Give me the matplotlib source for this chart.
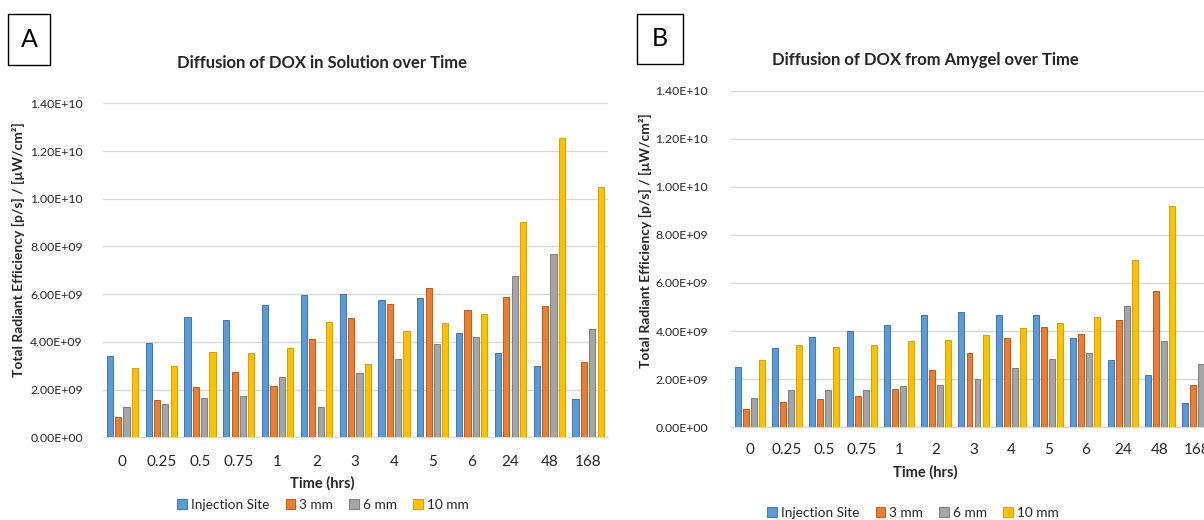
import numpy as np
import matplotlib
matplotlib.use("Agg")
import matplotlib.pyplot as plt
from matplotlib.patches import Rectangle
from matplotlib.ticker import FuncFormatter

plt.rcParams["font.family"] = ["Lato", "DejaVu Sans"]

# Data
times = ["0", "0.25", "0.5", "0.75", "1", "2", "3", "4", "5", "6", "24", "48", "168"]
series_names = ["Injection Site", "3 mm", "6 mm", "10 mm"]

# A: DOX in solution
sol_injection = [3.42e9, 3.94e9, 5.04e9, 4.93e9, 5.56e9, 5.95e9, 6.02e9, 5.74e9, 5.85e9, 4.38e9, 3.53e9, 2.99e9, 1.62e9]
sol_3mm = [0.87e9, 1.58e9, 2.11e9, 2.74e9, 2.15e9, 4.12e9, 5.01e9, 5.57e9, 6.24e9, 5.35e9, 5.87e9, 5.52e9, 3.14e9]
sol_6mm = [1.28e9, 1.38e9, 1.66e9, 1.72e9, 2.51e9, 1.27e9, 2.70e9, 3.30e9, 3.91e9, 4.20e9, 6.76e9, 7.67e9, 4.54e9]
sol_10mm = [2.92e9, 3.00e9, 3.56e9, 3.52e9, 3.73e9, 4.83e9, 3.09e9, 4.47e9, 4.78e9, 5.18e9, 9.02e9, 12.53e9, 10.49e9]

# B: DOX from Amygel (last 10 mm bar is cut off in the source)
gel_injection = [2.51e9, 3.28e9, 3.76e9, 3.99e9, 4.24e9, 4.68e9, 4.79e9, 4.68e9, 4.68e9, 3.72e9, 2.78e9, 2.18e9, 1.00e9]
gel_3mm = [0.76e9, 1.04e9, 1.18e9, 1.31e9, 1.57e9, 2.39e9, 3.07e9, 3.69e9, 4.18e9, 3.86e9, 4.44e9, 5.68e9, 1.76e9]
gel_6mm = [1.21e9, 1.56e9, 1.53e9, 1.56e9, 1.71e9, 1.76e9, 2.00e9, 2.47e9, 2.83e9, 3.08e9, 5.04e9, 3.60e9, 2.63e9]
gel_10mm = [2.78e9, 3.42e9, 3.35e9, 3.42e9, 3.58e9, 3.64e9, 3.85e9, 4.11e9, 4.35e9, 4.57e9, 6.97e9, 9.21e9, np.nan]

colors = ["#5B9BD5", "#ED7D31", "#A5A5A5", "#FFC000"]
edges = ["#3A78B5", "#C25A14", "#7F7F7F", "#D9A000"]
text_color = "#262626"

W, H = 1204, 520
fig = plt.figure(figsize=(W / 100, H / 100), dpi=100)


def px_axes(left, top, right, bottom):
    return fig.add_axes([left / W, 1 - bottom / H, (right - left) / W, (bottom - top) / H])


def draw_panel(ax, series, title, title_xy, letter_box, ylabel_xy, xlabel_y,
               legend_xy, xtick_pad, ytick_pad):
    x = np.arange(len(times))
    step, width = 0.215, 0.16
    handles = []
    for i, vals in enumerate(series):
        h = ax.bar(x + (i - 1.5) * step, vals, width, color=colors[i],
                   edgecolor=edges[i], linewidth=0.7, zorder=3)
        handles.append(h)
    ax.set_xlim(-0.5, len(times) - 0.5)
    ax.set_ylim(0, 1.4e10)
    ax.set_yticks(np.arange(0, 1.41e10, 2e9))
    ax.yaxis.set_major_formatter(FuncFormatter(lambda v, p: f"{v:.2E}"))
    ax.set_xticks(x)
    ax.set_xticklabels(times)
    ax.grid(axis="y", color="#D9D9D9", linewidth=1.0, zorder=0)
    for s in ["top", "right", "left"]:
        ax.spines[s].set_visible(False)
    ax.spines["bottom"].set_color("#D9D9D9")
    ax.tick_params(axis="both", length=0, colors=text_color)
    ax.tick_params(axis="x", pad=xtick_pad, labelsize=11)
    ax.tick_params(axis="y", pad=ytick_pad, labelsize=8.8)

    fig.text(title_xy[0] / W, 1 - title_xy[1] / H, title, ha="center", va="center",
             fontsize=12, fontweight="bold", color=text_color)
    fig.text(ylabel_xy[0] / W, 1 - ylabel_xy[1] / H,
             "Total Radiant Efficiency [p/s] / [µW/cm²]", rotation=90,
             ha="center", va="center", fontsize=10, fontweight="bold", color=text_color)
    fig.text(title_xy[0] / W, 1 - xlabel_y / H, "Time (hrs)", ha="center", va="center",
             fontsize=10.5, fontweight="bold", color=text_color)

    bx0, by0, bx1, by1, letter = letter_box
    fig.patches.append(Rectangle((bx0 / W, 1 - by1 / H), (bx1 - bx0) / W, (by1 - by0) / H,
                                 transform=fig.transFigure, fill=False,
                                 edgecolor="black", linewidth=1.0))
    fig.text((bx0 + bx1) / 2 / W, 1 - (by0 + by1) / 2 / H, letter, ha="center", va="center",
             fontsize=18, color="black")

    fig.legend(handles, series_names, loc="center", ncol=4, frameon=False,
               bbox_to_anchor=(legend_xy[0] / W, 1 - legend_xy[1] / H),
               handlelength=0.7, handleheight=0.7, handletextpad=0.3,
               columnspacing=1.2, fontsize=9.8, labelcolor=text_color)


ax_a = px_axes(103, 103.3, 607.5, 437.3)
draw_panel(ax_a, [sol_injection, sol_3mm, sol_6mm, sol_10mm],
           "Diffusion of DOX in Solution over Time", (322, 63),
           (8, 14, 50, 65, "A"), (18, 250), 483, (323, 505), 13, 14.5)

ax_b = px_axes(731, 91, 1216, 427)
draw_panel(ax_b, [gel_injection, gel_3mm, gel_6mm, gel_10mm],
           "Diffusion of DOX from Amygel over Time", (925, 60),
           (637, 14, 683, 64, "B"), (645, 241), 472, (913, 513), 11.5, 16.5)

fig.savefig("out.png", dpi=100)
